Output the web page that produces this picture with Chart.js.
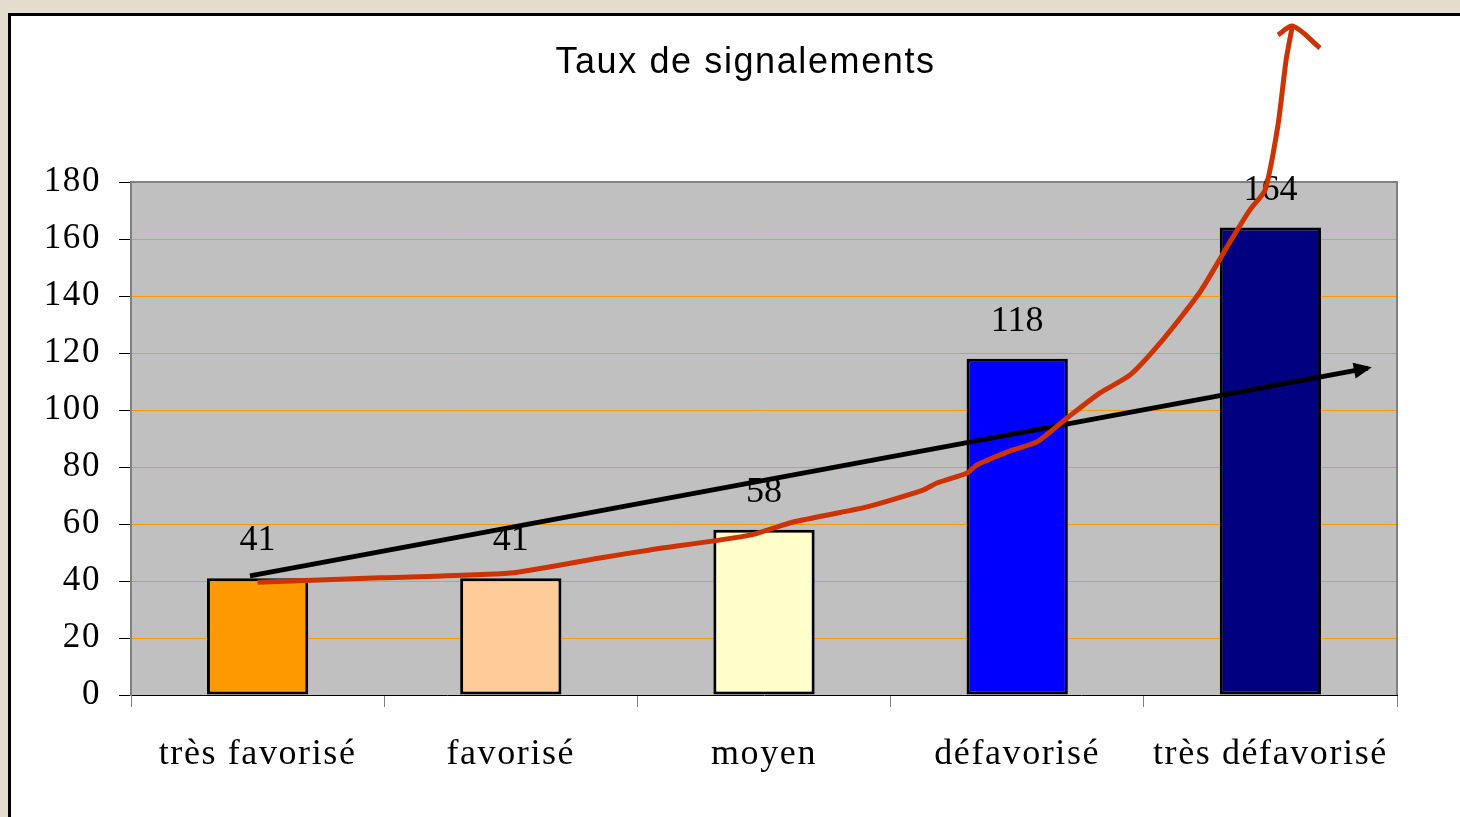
<!DOCTYPE html>
<html>
<head>
<meta charset="utf-8">
<script src="https://cdn.jsdelivr.net/npm/chart.js@4.4.0/dist/chart.umd.min.js"></script>
<style>
  html, body { margin: 0; padding: 0; }
  body { width: 1460px; height: 817px; overflow: hidden; background: #e4dccd; position: relative; }
  #frame { position: absolute; left: 8px; top: 13px; width: 1460px; height: 820px; border: 3px solid #000; background: #fff; }
  #myChart { position: absolute; left: 0; top: 0; }
</style>
</head>
<body>
<div id="frame"></div>
<canvas id="myChart" width="1460" height="817"></canvas>
<script>
// bar data
const categories = ['très favorisé', 'favorisé', 'moyen', 'défavorisé', 'très défavorisé']
const values = [41, 41, 58, 118, 164]
const barColors = ['#ff9900', '#ffcc99', '#ffffcc', '#0000ff', '#000080']
const yTicks = [0, 20, 40, 60, 80, 100, 120, 140, 160, 180]

// hand drawn red curve (x in category units, y in chart units)
const redX = [0.000, 0.483, 0.997, 1.352, 1.550, 1.945, 2.115, 2.407, 2.628, 2.683, 2.802, 2.841, 2.983, 3.078, 3.197, 3.327, 3.446, 3.584, 3.722, 3.840, 3.919, 3.979, 4.030, 4.062, 4.085]
const redY = [39.6, 41.1, 42.8, 48.1, 50.9, 56.1, 60.7, 66.0, 71.9, 74.4, 77.9, 80.7, 86.0, 88.8, 97.2, 106.0, 112.3, 125.6, 141.4, 158.9, 170.2, 177.2, 200.0, 222.8, 234.0]
const hookX = [4.030, 4.089, 4.196]
const hookY = [231.6, 234.7, 227.0]

// black trend arrow
const arrowX = [-0.03, 4.385]
const arrowY = [41.8, 114.7]

const toPoints = (xs, ys) => xs.map((x, i) => ({ x: x, y: ys[i] }))

const serif = 'Liberation Serif, Times New Roman, serif'

const plotBg = {
  id: 'plotBg',
  afterLayout(chart) {
    // left padding only serves to centre the title, let the y labels use it
    chart.scales.y.left = 0
  },
  beforeDraw(chart) {
    const { ctx, chartArea: a } = chart
    ctx.letterSpacing = '1.6px'
    ctx.save()
    ctx.fillStyle = '#c0c0c0'
    ctx.fillRect(a.left, a.top, a.right - a.left, a.bottom - a.top)
    ctx.restore()
  },
  beforeDatasetsDraw(chart) {
    const { ctx, chartArea: a } = chart
    ctx.save()
    ctx.strokeStyle = '#808080'
    ctx.lineWidth = 2
    ctx.beginPath()
    ctx.moveTo(a.left, a.bottom)
    ctx.lineTo(a.left, a.top)
    ctx.lineTo(a.right, a.top)
    ctx.lineTo(a.right, a.bottom)
    ctx.stroke()
    ctx.restore()
  }
}

const barLabels = {
  id: 'barLabels',
  afterDatasetDraw(chart, args) {
    if (args.index !== 0) return
    const { ctx } = chart
    ctx.save()
    ctx.letterSpacing = '0px'
    ctx.font = '36px ' + serif
    ctx.fillStyle = '#000'
    ctx.textAlign = 'center'
    ctx.textBaseline = 'alphabetic'
    args.meta.data.forEach((bar, i) => {
      ctx.fillText(String(values[i]), bar.x, bar.y - 28)
    })
    ctx.restore()
  }
}

const arrowHead = {
  id: 'arrowHead',
  afterDatasetsDraw(chart) {
    const meta = chart.getDatasetMeta(3)
    const pts = meta.data
    const p1 = pts[pts.length - 2], p2 = pts[pts.length - 1]
    const ang = Math.atan2(p2.y - p1.y, p2.x - p1.x)
    const c = Math.cos(ang), s = Math.sin(ang)
    const { ctx } = chart
    ctx.save()
    ctx.fillStyle = '#000'
    ctx.beginPath()
    ctx.moveTo(p2.x + 4 * c, p2.y + 4 * s)
    ctx.lineTo(p2.x - 14 * c - 8 * s, p2.y - 14 * s + 8 * c)
    ctx.lineTo(p2.x - 14 * c + 8 * s, p2.y - 14 * s - 8 * c)
    ctx.closePath()
    ctx.fill()
    ctx.restore()
  }
}

const ctx = document.getElementById('myChart').getContext('2d')
const myChart = new Chart(ctx, {
  type: 'bar',
  data: {
    labels: categories,
    datasets: [{
      type: 'bar',
      data: values,
      backgroundColor: barColors,
      borderColor: '#000',
      borderWidth: 3,
      borderSkipped: false,
      grouped: false,
      barPercentage: 0.4,
      categoryPercentage: 1.0,
      order: 3
    }, {
      type: 'line',
      xAxisID: 'xl',
      data: toPoints(redX, redY),
      borderColor: '#cc3300',
      borderWidth: 5,
      pointRadius: 0,
      tension: 0.2,
      clip: false,
      order: 1
    }, {
      type: 'line',
      xAxisID: 'xl',
      data: toPoints(hookX, hookY),
      borderColor: '#cc3300',
      borderWidth: 5,
      pointRadius: 0,
      tension: 0.3,
      clip: false,
      order: 1
    }, {
      type: 'line',
      xAxisID: 'xl',
      data: toPoints(arrowX, arrowY),
      borderColor: '#000',
      borderWidth: 5,
      pointRadius: 0,
      clip: false,
      order: 1
    }]
  },
  options: {
    responsive: false,
    animation: false,
    devicePixelRatio: 1,
    layout: { padding: { top: 41, right: 63, left: 94, bottom: 0 } },
    plugins: {
      legend: { display: false },
      tooltip: { enabled: false },
      title: {
        display: true,
        text: 'Taux de signalements',
        color: '#000',
        font: { family: 'Liberation Sans, Arial, sans-serif', size: 36, weight: 'normal' },
        padding: { top: 0, bottom: 97.8 }
      }
    },
    scales: {
      x: {
        type: 'category',
        afterFit: (scale) => { scale.height = 122 },
        grid: { display: true, drawOnChartArea: false, tickLength: 12, color: '#808080', lineWidth: 1 },
        border: { display: true, color: '#000', width: 1 },
        ticks: { color: '#000', font: { family: serif, size: 36 }, padding: 26, maxRotation: 0 }
      },
      xl: {
        type: 'linear',
        display: false,
        offset: false,
        min: -0.5,
        max: 4.5
      },
      y: {
        min: 0,
        max: 180,
        afterFit: (scale) => { scale.width = 37 },
        afterBuildTicks: (scale) => { scale.ticks = yTicks.map(v => ({ value: v })) },
        grid: {
          color: (c) => (c.tick && (c.tick.value === 0 || c.tick.value === 180)) ? 'rgba(0,0,0,0)' : '#ff9900',
          tickColor: '#000',
          tickLength: 12,
          lineWidth: 1
        },
        border: { display: true, color: '#808080', width: 2 },
        ticks: { color: '#000', font: { family: serif, size: 35 }, padding: 18 }
      }
    }
  },
  plugins: [plotBg, barLabels, arrowHead]
})
</script>
</body>
</html>
